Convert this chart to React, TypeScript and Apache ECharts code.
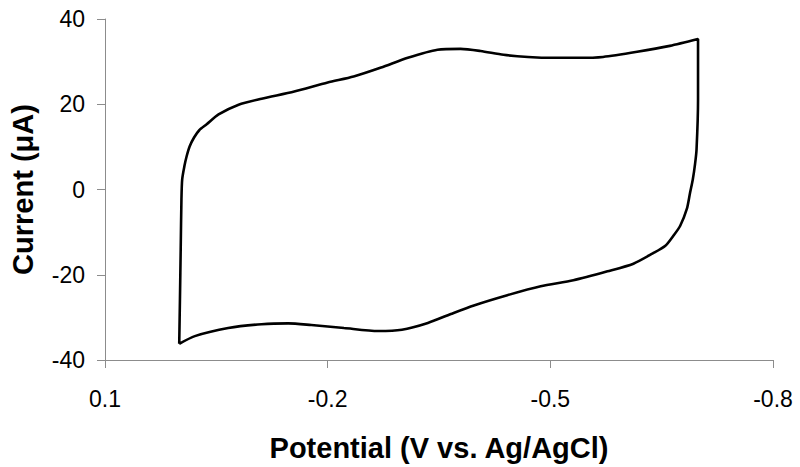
import React, { useEffect, useRef } from "react";
import * as echarts from "echarts";

// Cyclic voltammogram, traced as one closed loop (V vs. Ag/AgCl, µA)
const potential = [
  0.0, -0.001, -0.002, -0.003, -0.004, -0.007, -0.01, -0.014, -0.02, -0.027, -0.037,
  -0.053, -0.08, -0.111, -0.155, -0.2, -0.235, -0.272, -0.308, -0.348, -0.379, -0.406,
  -0.437, -0.47, -0.504, -0.538, -0.571, -0.617, -0.661, -0.699,
  -0.699, -0.697, -0.695, -0.692, -0.688, -0.684, -0.675, -0.666, -0.655, -0.638, -0.612,
  -0.577, -0.531, -0.487, -0.442, -0.397, -0.366, -0.335, -0.3, -0.268, -0.222,
  -0.178, -0.147, -0.111, -0.066, -0.021, 0.0,
];
const current = [
  -36.2, -25.5, -13.9, -2.2, 2.4, 5.5, 7.8, 10.1, 12.2, 13.9, 15.3,
  17.6, 19.9, 21.3, 23.0, 25.1, 26.5, 28.6, 30.9, 32.8, 33.0, 32.5,
  31.6, 31.1, 30.9, 30.9, 31.1, 32.3, 33.7, 35.3,
  21.1, 9.4, 6.0, 2.4, -1.0, -4.5, -8.5, -10.8, -13.2, -15.0, -17.4,
  -19.2, -21.3, -22.7, -24.8, -27.2, -29.2, -31.3, -32.9, -33.2, -32.5,
  -31.8, -31.4, -31.6, -32.5, -34.4, -36.2,
];
const xTicks = [0.1, -0.2, -0.5, -0.8];
const yTicks = [-40, -20, 0, 20, 40];

export default function App() {
  const ref = useRef<HTMLDivElement>(null);
  useEffect(() => {
    if (!ref.current) return;
    const chart = echarts.init(ref.current, undefined, { renderer: "svg" });
    const font = "'Liberation Sans', Arial, sans-serif";
    chart.setOption({
      animation: false,
      backgroundColor: "#ffffff",
      grid: { left: 103, top: 19, width: 670, height: 343, containLabel: false },
      xAxis: {
        type: "value",
        inverse: true,
        min: -0.8,
        max: 0.1,
        name: "Potential (V vs. Ag/AgCl)",
        nameLocation: "middle",
        nameGap: 73,
        nameTextStyle: { fontFamily: font, fontWeight: "bold", fontSize: 29, color: "#000" },
        axisLine: { show: true, onZero: false, lineStyle: { color: "#8c8c8c", width: 1 } },
        axisTick: { show: true, length: 8, customValues: xTicks, lineStyle: { color: "#8c8c8c" } },
        axisLabel: {
          customValues: xTicks,
          margin: 27,
          fontFamily: font,
          fontSize: 23,
          color: "#000",
          formatter: (v: number) => v.toFixed(1),
        },
        splitLine: { show: false },
      },
      yAxis: {
        type: "value",
        min: yTicks[0],
        max: yTicks[yTicks.length - 1],
        interval: 20,
        name: "Current (\u03bcA)",
        nameLocation: "middle",
        nameGap: 68,
        nameRotate: 90,
        nameTextStyle: { fontFamily: font, fontWeight: "bold", fontSize: 29, color: "#000" },
        axisLine: { show: true, onZero: false, lineStyle: { color: "#8c8c8c", width: 1 } },
        axisTick: { show: true, length: 8, lineStyle: { color: "#8c8c8c" } },
        axisLabel: { margin: 20, fontFamily: font, fontSize: 23, color: "#000" },
        splitLine: { show: false },
      },
      series: [
        {
          type: "line",
          data: potential.map((p, i) => [p, current[i]]),
          showSymbol: false,
          smooth: 0.25,
          lineStyle: { color: "#000", width: 2.6 },
        },
      ],
    });
    return () => chart.dispose();
  }, []);
  return (
    <div
      ref={ref}
      style={{ position: "fixed", left: 0, top: 0, width: 800, height: 467, background: "#fff" }}
    />
  );
}
